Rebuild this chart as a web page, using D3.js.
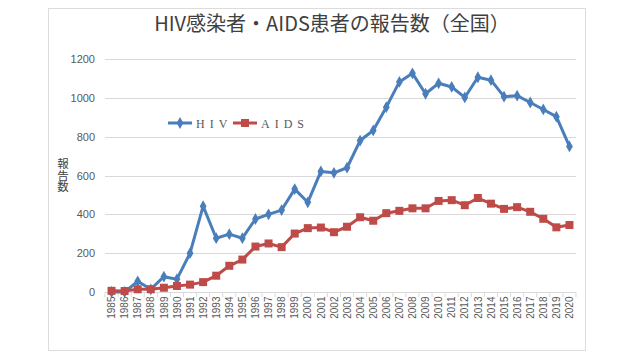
<!DOCTYPE html>
<html>
<head>
<meta charset="utf-8">
<script src="https://cdn.jsdelivr.net/npm/d3@7"></script>
<style>
  body { margin: 0; background: #fff; }
</style>
</head>
<body>
<div id="chart"></div>
<script>
var years = ["1985","1986","1987","1988","1989","1990","1991","1992","1993","1994","1995","1996",
  "1997","1998","1999","2000","2001","2002","2003","2004","2005","2006","2007","2008","2009",
  "2010","2011","2012","2013","2014","2015","2016","2017","2018","2019","2020"];
var hiv = [0, 0, 55, 14, 79, 66, 200, 442, 277, 298, 277, 376, 400, 422, 530, 462, 621, 614, 640,
  780, 832, 952, 1082, 1126, 1021, 1075, 1056, 1002, 1106, 1091, 1006, 1011, 976, 940, 903, 750];
var aids = [6, 5, 14, 14, 22, 31, 38, 51, 84, 135, 167, 234, 250, 231, 301, 329, 332, 308, 336,
  385, 367, 406, 418, 431, 431, 469, 473, 447, 484, 455, 428, 437, 413, 377, 333, 345];
var yTicks = [0, 200, 400, 600, 800, 1000, 1200];

var width = 640, height = 360;
var blue = "#4a7ebb", red = "#be4b48";

var svg = d3.select("#chart").append("svg")
    .attr("width", width)
    .attr("height", height);

// chart frame
svg.append("rect")
    .attr("x", 48.5).attr("y", 8.5)
    .attr("width", 537).attr("height", 342)
    .attr("fill", "#fff")
    .attr("stroke", "#dcdcdc");

var x = d3.scalePoint().domain(years).range([105, 576]).padding(0.5);
var y = d3.scaleLinear().domain([0, 1200]).range([292, 59]);

// gridlines
svg.append("g")
    .selectAll("line")
    .data(yTicks.slice(1))
    .enter().append("line")
    .attr("x1", 105).attr("x2", 576)
    .attr("y1", function(d) { return Math.round(y(d)) + 0.5; })
    .attr("y2", function(d) { return Math.round(y(d)) + 0.5; })
    .attr("stroke", "#d9d9d9");

// y axis labels
var yAxis = svg.append("g")
    .attr("transform", "translate(105,0)")
    .call(d3.axisLeft(y).tickValues(yTicks).tickFormat(d3.format("d")).tickSize(0).tickPadding(10));
yAxis.select(".domain").remove();
yAxis.selectAll("text")
    .attr("font-family", "'Liberation Sans', Arial, sans-serif")
    .attr("font-size", 11)
    .attr("fill", "#595959");

// x axis
var band = (576 - 105) / years.length;
var xAxis = svg.append("g")
    .attr("transform", "translate(0,292.5)")
    .call(d3.axisBottom(x).tickSize(0).tickPadding(4));
xAxis.select(".domain")
    .attr("d", "M105,0H576")
    .attr("stroke", "#d9d9d9");
xAxis.selectAll("text")
    .attr("font-family", "'Liberation Sans', Arial, sans-serif")
    .attr("font-size", 10)
    .attr("fill", "#595959")
    .attr("transform", "rotate(-90)")
    .attr("text-anchor", "end")
    .attr("dx", "-4")
    .attr("dy", "0.32em")
    .attr("x", 0)
    .attr("y", 0);
svg.append("g")
    .selectAll("line")
    .data(d3.range(years.length + 1))
    .enter().append("line")
    .attr("x1", function(i) { return 105 + i * band; })
    .attr("x2", function(i) { return 105 + i * band; })
    .attr("y1", 292.5).attr("y2", 297)
    .attr("stroke", "#d9d9d9");

// y axis title, written vertically
svg.append("text")
    .attr("x", 63)
    .attr("y", 158)
    .attr("writing-mode", "vertical-rl")
    .attr("font-family", "'Noto Sans CJK JP', sans-serif")
    .attr("font-size", 11.5)
    .attr("fill", "#404040")
    .text("報告数");

// title
svg.append("text")
    .attr("x", 332).attr("y", 31)
    .attr("text-anchor", "middle")
    .attr("font-family", "'Noto Sans CJK JP', sans-serif")
    .attr("font-size", 20)
    .attr("fill", "#404040")
    .text("HIV感染者・AIDS患者の報告数（全国）");

var line = d3.line()
    .x(function(d, i) { return x(years[i]); })
    .y(function(d) { return y(d); });

function drawSeries(values, color, symbol, size) {
    svg.append("path")
        .datum(values)
        .attr("d", line)
        .attr("fill", "none")
        .attr("stroke", color)
        .attr("stroke-width", 3)
        .attr("stroke-linejoin", "round");
    svg.append("g")
        .selectAll("path")
        .data(values)
        .enter().append("path")
        .attr("transform", function(d, i) { return "translate(" + x(years[i]) + "," + y(d) + ")"; })
        .attr("d", d3.symbol().type(symbol).size(size))
        .attr("fill", color);
}
drawSeries(hiv, blue, d3.symbolDiamond, 40);
drawSeries(aids, red, d3.symbolSquare, 64);

// legend
var legend = svg.append("g").attr("transform", "translate(168,123)");
var items = [
    {name: "HIV", color: blue, symbol: d3.symbolDiamond, size: 40, x: 0},
    {name: "AIDS", color: red, symbol: d3.symbolSquare, size: 64, x: 65}
];
items.forEach(function(it) {
    var g = legend.append("g").attr("transform", "translate(" + it.x + ",0)");
    g.append("line")
        .attr("x1", 0).attr("x2", 24)
        .attr("stroke", it.color).attr("stroke-width", 3);
    g.append("path")
        .attr("transform", "translate(12,0)")
        .attr("d", d3.symbol().type(it.symbol).size(it.size))
        .attr("fill", it.color);
    g.append("text")
        .attr("x", 28).attr("y", 4.5)
        .attr("font-family", "'Liberation Serif', serif")
        .attr("font-size", 12)
        .attr("letter-spacing", "5px")
        .attr("fill", "#595959")
        .text(it.name);
});
</script>
</body>
</html>
